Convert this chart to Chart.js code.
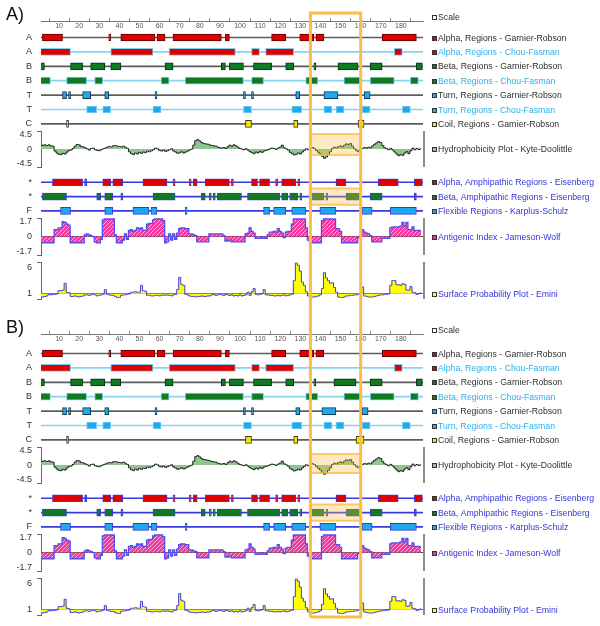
<!DOCTYPE html>
<html>
<head>
<meta charset="utf-8">
<script src="https://cdn.jsdelivr.net/npm/chart.js@4.4.1/dist/chart.umd.min.js"></script>
<style>
  html, body { margin: 0; padding: 0; background: #fff; }
  .panel { position: relative; width: 600px; height: 313px; }
</style>
</head>
<body>
<div class="panel"><canvas id="chartA" width="600" height="313"></canvas></div>
<div class="panel"><canvas id="chartB" width="600" height="313"></canvas></div>
<script>
// ---- data ----
const scaleMin = 1, scaleMax = 191;
const scaleTicks = [10, 20, 30, 40, 50, 60, 70, 80, 90, 100, 110, 120, 130, 140, 150, 160, 170, 180];
const rowLabels = ['A', 'A', 'B', 'B', 'T', 'T', 'C'];
const amphLabels = ['*', '*', 'F'];
const hydroTicks = [-4.5, 0, 4.5];
const antigenTicks = [-1.7, 0, 1.7];
const surfaceTicks = [1, 6];
const highlight = [135, 160];

// regions, residue ranges [first, last]
const alphaGR = [[2,11],[35,35],[41,57],[59,62],[67,90],[93,94],[116,122],[130,136],[138,141],[171,187]];
const alphaCF = [[1,15],[36,56],[65,97],[106,109],[113,126],[177,180]];
const betaGR = [[1,2],[16,21],[26,32],[36,40],[63,66],[91,92],[95,101],[107,115],[123,126],[137,137],[149,158],[165,170],[188,190]];
const betaCF = [[1,5],[14,23],[28,31],[61,64],[73,101],[106,111],[133,138],[152,160],[165,176],[185,188]];
const turnGR = [[12,13],[15,15],[22,25],[33,34],[58,58],[102,102],[106,106],[128,129],[142,148],[162,164]];
const turnCF = [[24,28],[32,35],[57,60],[102,105],[126,130],[142,145],[148,151],[161,164],[181,184]];
const coilGR = [[14,14],[103,105],[127,128],[159,161]];
const alphaAmph = [[7,21],[23,23],[32,35],[37,41],[52,63],[67,67],[75,75],[77,78],[83,94],[96,96],[106,108],[110,114],[118,118],[121,127],[129,129],[148,152],[169,178],[187,190]];
const betaAmph = [[2,13],[29,30],[33,36],[41,41],[57,67],[81,82],[85,85],[87,87],[89,100],[104,119],[121,123],[125,128],[130,130],[136,141],[143,143],[153,159],[165,170],[187,187]];
const flex = [[11,15],[33,36],[47,54],[56,58],[73,73],[112,114],[117,122],[126,132],[140,147],[161,165],[175,187]];

// panel B differs in a few tracks
const betaGR_B = [[1,2],[16,21],[26,32],[36,40],[63,66],[91,92],[95,101],[107,115],[123,126],[137,137],[147,157],[165,170],[188,190]];
const turnGR_B = [[12,13],[15,15],[22,25],[33,34],[58,58],[102,102],[106,106],[128,129],[141,147],[161,163]];
const coilGR_B = [[14,14],[103,105],[127,128],[158,161]];
const betaAmph_B = [[2,13],[29,30],[33,36],[41,41],[57,67],[81,82],[85,85],[87,87],[89,100],[104,119],[121,123],[125,128],[130,130],[135,141],[143,143],[153,159],[165,170],[187,187]];

// per-residue plots (1..190)
const hydro = [
  1.0, 1.2, 1.3, 1.1, 1.3, 1.0, 0.9, -0.6, -1.2, -1.6,
  -1.7, -1.3, -1.5, -0.9, -0.4, -0.3, 0.2, 0.9, 1.4, 1.3,
  0.8, 0.7, 0.4, 0.1, -0.3, 0.2, 0.3, -0.2, -0.4, -0.5,
  -0.2, 0.1, 0.3, 0.6, 0.8, 0.7, 1.0, 1.1, 0.9, 0.8,
  0.7, 0.9, 0.6, 0.2, -0.8, -1.4, -1.7, -1.2, -1.5, -1.0,
  -1.3, -0.9, -1.1, -0.6, -0.8, -0.5, -0.2, 0.3, 0.1, -0.4,
  -0.6, -0.3, -0.7, -0.5, -0.2, 0.1, -0.6, -0.9, -1.3, -1.1,
  -0.8, -1.2, -0.9, -0.6, -0.3, 0.0, 1.2, 2.6, 2.9, 2.5,
  2.0, 1.7, 1.6, 1.5, 1.3, 1.1, 1.0, 0.9, 0.6, 0.4,
  0.3, 0.5, 0.2, 0.7, 1.2, 0.9, 1.3, 1.0, 0.6, 0.2,
  0.0, -0.2, 0.1, -0.3, -0.8, -1.1, -1.4, -0.9, -1.2, -0.7,
  -1.0, -0.6, -0.4, -0.2, 0.1, 0.3, 0.2, -0.1, 0.3, 0.6,
  1.2, 0.4, 0.1, -0.3, -1.0, -1.4, -1.8, -1.6, -1.2, -1.5,
  -0.9, -0.4, 0.1, -0.2, 0.3, 0.5, 0.2, -0.4, -1.0, -1.5,
  -2.2, -2.8, -2.4, -1.6, -0.8, 0.2, 0.6, 0.4, 0.8, 1.0,
  0.7, 1.2, 1.6, 1.4, 1.7, 0.9, 0.1, -0.5, -0.8, -0.3,
  0.2, 0.5, 0.3, 0.6, 0.4, 1.0, 1.5, 1.9, 2.3, 2.0,
  1.1, 0.4, 0.1, -0.2, 0.2, -0.3, -0.9, -1.5, -2.0, -1.7,
  -1.9, -1.2, -0.8, -1.4, -0.5, 0.3, -0.2, 0.2, -0.1, 0.1
];
const antigenic = [
  -0.7, -0.7, -0.7, -0.7, -0.7, -0.7, -0.7, 0.8, 0.8, 1.0,
  1.0, 1.7, 1.6, 1.4, 1.3, -0.7, -0.7, -0.7, -0.7, -0.7,
  -0.7, -0.7, 0.2, 0.3, 0.2, 0.1, 0.0, -0.6, -0.7, -0.7,
  -0.3, 1.9, 2.0, 2.0, 2.0, 2.0, 2.0, 0.2, -0.7, -0.7,
  -0.7, -0.4, 0.3, -0.3, 0.7, 0.8, 0.6, 0.7, 1.0, 0.9,
  1.0, 0.7, 0.7, 1.4, 1.5, 1.5, 1.9, 2.0, 2.0, 2.0,
  2.0, 1.8, -0.7, -0.6, 0.3, -0.4, 0.3, -0.3, 0.4, 0.9,
  1.0, 1.0, 0.9, 0.9, 0.3, 0.3, 0.2, 0.1, -0.6, -0.6,
  -0.6, -0.6, -0.6, -0.6, 0.3, 0.3, 0.3, 0.3, 0.3, 0.3,
  0.3, 0.1, -0.5, -0.5, -0.4, -0.6, -0.6, -0.6, -0.6, -0.6,
  -0.6, -0.6, 0.3, 0.4, 1.0, 0.6, 0.4, -0.2, -0.2, -0.2,
  -0.1, -0.2, -0.2, 0.2, 0.5, 0.5, 0.6, 0.5, 0.9, 0.6,
  0.4, -0.1, 0.5, 0.6, 0.6, 1.4, 2.0, 2.0, 2.0, 2.0,
  2.0, 2.0, 1.0, -0.4, -0.7, -0.7, -0.7, -0.7, -0.7, -0.7,
  1.8, 2.0, 2.0, 2.0, 2.0, 2.0, 2.0, 0.9, 0.9, 0.6,
  -0.7, -0.7, -0.7, -0.7, -0.7, -0.7, -0.7, -0.7, -0.1, 0.1,
  0.8, 0.5, 0.4, 0.3, 0.1, -0.6, -0.6, -0.6, -0.6, -0.6,
  -0.2, -0.2, -0.2, -0.2, 1.0, 1.1, 1.1, 1.1, 1.1, 1.2,
  1.6, 1.2, 1.6, 0.8, 0.8, 1.1, 0.7, 0.7, 0.7, 0.6
];
const surface = [
  0.4, 0.4, 0.5, 0.6, 0.9, 0.8, 0.9, 0.9, 1.0, 1.6,
  1.6, 1.7, 3.0, 1.3, 1.2, 0.5, 0.5, 0.6, 0.5, 0.4,
  0.5, 0.6, 0.8, 0.8, 0.7, 0.8, 0.9, 0.8, 0.6, 0.7,
  0.8, 0.9, 1.8, 0.9, 0.8, 0.7, 0.7, 0.5, 0.3, 0.3,
  0.7, 0.8, 0.8, 0.9, 1.0, 1.3, 1.3, 1.4, 1.3, 1.3,
  2.6, 1.6, 1.5, 0.7, 0.7, 0.6, 0.6, 0.7, 0.7, 0.6,
  0.7, 0.8, 0.7, 0.8, 0.7, 0.6, 0.8, 0.9, 1.8, 4.1,
  2.8, 2.6, 0.9, 0.8, 0.6, 0.5, 0.5, 0.4, 0.5, 0.5,
  0.6, 0.5, 0.5, 0.6, 0.6, 0.8, 0.9, 0.7, 0.8, 0.9,
  0.8, 0.7, 0.9, 0.8, 0.7, 0.8, 0.6, 0.7, 0.6, 0.8,
  0.6, 0.7, 0.8, 1.3, 0.7, 1.4, 2.0, 0.9, 0.8, 0.9,
  1.0, 1.8, 0.8, 0.8, 0.7, 0.7, 0.6, 0.6, 0.7, 0.6,
  0.7, 0.8, 0.6, 0.7, 0.8, 0.9, 3.5, 6.8, 6.4, 5.3,
  3.2, 2.6, 1.4, 0.6, 0.5, 0.4, 0.4, 0.5, 0.6, 0.8,
  2.0, 5.0, 4.0, 3.5, 3.0, 3.1, 2.2, 1.3, 0.4, 0.3,
  0.3, 0.4, 0.6, 0.6, 0.7, 0.7, 0.8, 0.8, 0.9, 1.0,
  2.3, 0.6, 0.5, 0.4, 0.4, 0.4, 0.5, 0.6, 0.7, 0.8,
  0.8, 0.9, 0.9, 1.0, 2.6, 3.5, 3.5, 2.7, 2.7, 2.6,
  2.9, 2.8, 1.7, 1.7, 2.4, 1.3, 1.2, 0.9, 1.0, 1.2
];

// ---- styles ----
const FONT = '"Liberation Sans", Arial, sans-serif';
Chart.defaults.font.family = FONT;
const DARK_TEXT = '#2e2e2e', CF_TEXT = '#29b0ec', EIS_TEXT = '#3535d6';
const RED = '#e00000', GREEN = '#107a22', CYAN = '#1ea8ee', YELLOW = '#f4e800';
const GR_LINE = '#5c5c5c', CF_LINE = '#86d3f3', EIS_LINE = '#3a3adc';

const rowStyles = {
  alphaGR:   { fill: RED,    edge: '#5a0000', line: GR_LINE,  text: 'Alpha, Regions - Garnier-Robson', color: DARK_TEXT },
  alphaCF:   { fill: RED,    edge: '#7ccff0', line: CF_LINE,  text: 'Alpha, Regions - Chou-Fasman', color: CF_TEXT },
  betaGR:    { fill: GREEN,  edge: '#033010', line: GR_LINE,  text: 'Beta, Regions - Garnier-Robson', color: DARK_TEXT },
  betaCF:    { fill: GREEN,  edge: '#7ccff0', line: CF_LINE,  text: 'Beta, Regions - Chou-Fasman', color: CF_TEXT },
  turnGR:    { fill: CYAN,   edge: '#123a55', line: GR_LINE,  text: 'Turn, Regions - Garnier-Robson', color: DARK_TEXT },
  turnCF:    { fill: CYAN,   edge: '#7ccff0', line: CF_LINE,  text: 'Turn, Regions - Chou-Fasman', color: CF_TEXT },
  coilGR:    { fill: YELLOW, edge: '#3a3a20', line: GR_LINE,  text: 'Coil, Regions - Garnier-Robson', color: DARK_TEXT },
  alphaAmph: { fill: RED,    edge: EIS_LINE,  line: EIS_LINE, text: 'Alpha, Amphipathic Regions - Eisenberg', color: EIS_TEXT },
  betaAmph:  { fill: GREEN,  edge: EIS_LINE,  line: EIS_LINE, text: 'Beta, Amphipathic Regions - Eisenberg', color: EIS_TEXT },
  flex:      { fill: CYAN,   edge: EIS_LINE,  line: EIS_LINE, text: 'Flexible Regions - Karplus-Schulz', color: EIS_TEXT }
};

function hatch() {
  const c = document.createElement('canvas');
  c.width = 4; c.height = 4;
  const g = c.getContext('2d');
  g.fillStyle = '#f23a9f';
  g.fillRect(0, 0, 4, 4);
  g.strokeStyle = '#ffa6d6';
  g.lineWidth = 1;
  g.beginPath(); g.moveTo(0, 4); g.lineTo(4, 0); g.stroke();
  return g.createPattern(c, 'repeat');
}

const plotStyles = {
  hydro:   { min: -5.5, max: 5.5, base: 0, fill: '#8ec68e', line: '#1a1a1a', width: 1, baseColor: 'rgba(0,0,0,0)',
             text: 'Hydrophobicity Plot - Kyte-Doolittle', color: DARK_TEXT, sq: '#8ec68e' },
  antigen: { min: -2.1, max: 2.1, base: 0, fill: hatch(), line: '#4f4ff2', width: 1.3, baseColor: '#444',
             text: 'Antigenic Index - Jameson-Wolf', color: EIS_TEXT, sq: '#f0329c' },
  surface: { min: 0, max: 7, base: 1, fill: '#ffff00', line: '#3d3ddc', width: 1, baseColor: '#6f6f2a',
             text: 'Surface Probability Plot - Emini', color: EIS_TEXT, sq: '#ffff00' }
};

// ---- decorations: legend texts, highlight frame, panel letter ----
function makeDecor(cfg) {
  return {
    id: 'decor',
    afterDraw(chart) {
      const { ctx, chartArea: a, scales } = chart;
      const x = scales.x;
      ctx.save();

      // right edge of the plot bands
      ctx.strokeStyle = '#8c8c8c';
      ctx.lineWidth = 2;
      ['hydro', 'antigen', 'surface'].forEach(id => {
        const s = scales[id];
        ctx.beginPath(); ctx.moveTo(a.right + 1, s.top); ctx.lineTo(a.right + 1, s.bottom); ctx.stroke();
      });

      // highlighted window
      const x0 = x.getPixelForValue(highlight[0]), x1 = x.getPixelForValue(highlight[1]);
      const h = scales.hydro;
      const hy0 = h.getPixelForValue(cfg.hydroBox[0]), hy1 = h.getPixelForValue(cfg.hydroBox[1]);
      const b = scales.betaAmph;
      ctx.fillStyle = 'rgba(250, 190, 70, 0.32)';
      ctx.fillRect(x0, hy0, x1 - x0, hy1 - hy0);
      ctx.fillRect(x0, b.top - 1, x1 - x0, b.bottom - b.top + 2);
      ctx.strokeStyle = 'rgba(250, 185, 60, 0.75)';
      ctx.lineWidth = 2;
      ctx.strokeRect(x0, hy0, x1 - x0, hy1 - hy0);
      ctx.strokeRect(x0, b.top - 1, x1 - x0, b.bottom - b.top + 2);

      ctx.strokeStyle = '#fbbd45';
      ctx.lineWidth = 3;
      ctx.beginPath();
      ctx.moveTo(x0, cfg.frame[1]); ctx.lineTo(x0, cfg.frame[0]);
      if (cfg.frameTop) { ctx.lineTo(x1, cfg.frame[0]); } else { ctx.moveTo(x1, cfg.frame[0]); }
      ctx.lineTo(x1, cfg.frame[1]);
      if (cfg.frameBottom) { ctx.lineTo(x0, cfg.frame[1]); }
      ctx.stroke();

      // legend on the right
      ctx.font = '8.7px ' + FONT;
      ctx.textBaseline = 'middle';
      ctx.textAlign = 'left';
      const lx = a.right + 9;
      cfg.legends.forEach(l => {
        let y;
        if (l.id === 'x') y = x.bottom - 4;
        else if (l.at !== undefined) y = scales[l.id].getPixelForValue(l.at);
        else y = (scales[l.id].top + scales[l.id].bottom) / 2;
        y = Math.round(y);
        ctx.fillStyle = l.sq;
        ctx.fillRect(lx, y - 2, 5, 5);
        ctx.strokeStyle = '#333';
        ctx.lineWidth = 1;
        ctx.strokeRect(lx + 0.5, y - 1.5, 4, 4);
        ctx.fillStyle = l.color;
        ctx.fillText(l.text, lx + 6, y + 0.5);
      });

      // panel letter
      ctx.font = '18px ' + FONT;
      ctx.textBaseline = 'alphabetic';
      ctx.fillStyle = '#111';
      ctx.fillText(cfg.letter, 6, 20);
      ctx.restore();
    }
  };
}

function segBar(s) { return [s[0] - 0.3, s[1] + 0.7]; }

function buildPanel(p) {
  const datasets = [];
  const scales = {};
  const legends = [{ id: 'x', text: 'Scale', color: DARK_TEXT, sq: '#fff' }];
  let weight = 100;
  const fixWidth = s => { s.width = 41; };

  scales.x = {
    type: 'linear', axis: 'x', position: 'top', min: scaleMin, max: scaleMax, offset: false,
    afterBuildTicks: s => { s.ticks = scaleTicks.map(v => ({ value: v })); },
    ticks: { autoSkip: false, mirror: true, padding: 1, maxRotation: 0, color: '#555', font: { size: 7 } },
    grid: { drawOnChartArea: false, tickLength: 3, color: '#888' },
    border: { color: '#777' }
  };

  function spacer(id, h) {
    scales[id] = { type: 'linear', axis: 'y', display: false, position: 'left', stack: 'tracks', stackWeight: h,
                   weight: weight--, min: 0, max: 1, afterFit: fixWidth };
  }

  function row(id, label, segs, h) {
    const st = rowStyles[id];
    scales[id] = {
      type: 'category', axis: 'y', labels: [label], position: 'left', stack: 'tracks', stackWeight: h,
      weight: weight--, offset: true,
      grid: { display: false, drawTicks: true, tickLength: 4 }, border: { display: false },
      ticks: { padding: 5, color: '#333', font: { size: 9 } },
      afterFit: fixWidth
    };
    datasets.push({ type: 'bar', indexAxis: 'y', xAxisID: 'x', yAxisID: id, data: [[scaleMin, scaleMax]],
                    backgroundColor: st.line, barThickness: 1, grouped: false, order: 9 });
    segs.forEach(s => datasets.push({
      type: 'bar', indexAxis: 'y', xAxisID: 'x', yAxisID: id, data: [segBar(s)],
      backgroundColor: st.fill, borderColor: st.edge, borderWidth: 1, borderSkipped: false,
      barThickness: 7, grouped: false, order: 2
    }));
    legends.push({ id, text: st.text, color: st.color, sq: st.fill });
  }

  function plot(id, values, tickVals, h) {
    const st = plotStyles[id];
    scales[id] = {
      type: 'linear', axis: 'y', position: 'left', stack: 'tracks', stackWeight: h, weight: weight--,
      min: st.min, max: st.max, offset: false,
      afterBuildTicks: s => { s.ticks = [st.min].concat(tickVals, [st.max]).map(v => ({ value: v })); },
      afterFit: fixWidth,
      ticks: { autoSkip: false, padding: 5, color: '#333', font: { size: 9 },
               callback: v => tickVals.includes(v) ? String(v) : '' },
      grid: {
        tickLength: 4,
        color: c => (c.tick && c.tick.value === st.base) ? st.baseColor : 'rgba(0,0,0,0)',
        tickColor: c => (c.tick && (c.tick.value === st.min || c.tick.value === st.max)) ? '#666' : 'rgba(0,0,0,0)'
      },
      border: { display: true, color: '#666' }
    };
    datasets.push({
      type: 'line', xAxisID: 'x', yAxisID: id,
      data: values.map((v, i) => ({ x: i + 1, y: v })),
      borderColor: st.line, borderWidth: st.width, backgroundColor: st.fill,
      fill: st.base === 0 ? 'origin' : { value: st.base },
      stepped: 'middle', pointRadius: 0, order: 1
    });
    legends.push({ id, text: st.text, color: st.color, sq: st.sq, at: st.base });
  }

  spacer('gapTop', p.topGap);
  ['alphaGR', 'alphaCF', 'betaGR', 'betaCF', 'turnGR', 'turnCF', 'coilGR']
    .forEach((k, i) => row(k, rowLabels[i], p.rows[k], 14.4));
  plot('hydro', hydro, hydroTicks, 36);
  spacer('gapMid', 8);
  ['alphaAmph', 'betaAmph', 'flex'].forEach((k, i) => row(k, amphLabels[i], p.rows[k], 14.33));
  plot('antigen', antigenic, antigenTicks, 37);
  spacer('gapLow', 7);
  plot('surface', surface, surfaceTicks, 37);

  new Chart(document.getElementById(p.canvas), {
    type: 'bar',
    data: { datasets },
    options: {
      responsive: false,
      animation: false,
      events: [],
      layout: { padding: { top: 16, left: 0, right: 177, bottom: p.bottomPad } },
      scales,
      plugins: { legend: { display: false }, tooltip: { enabled: false } }
    },
    plugins: [makeDecor({ legends, letter: p.letter, frame: p.frame, frameTop: p.frameTop,
                          frameBottom: p.frameBottom, hydroBox: p.hydroBox })]
  });
}

buildPanel({
  canvas: 'chartA', letter: 'A)', topGap: 9.3, bottomPad: 13.9,
  frame: [13, 313], frameTop: true, frameBottom: false, hydroBox: [4.6, -1.8],
  rows: { alphaGR, alphaCF, betaGR, betaCF, turnGR, turnCF, coilGR, alphaAmph, betaAmph, flex }
});
buildPanel({
  canvas: 'chartB', letter: 'B)', topGap: 12.3, bottomPad: 10.9,
  frame: [0, 304], frameTop: false, frameBottom: true, hydroBox: [3.4, -2.4],
  rows: { alphaGR, alphaCF, betaGR: betaGR_B, betaCF, turnGR: turnGR_B, turnCF, coilGR: coilGR_B,
          alphaAmph, betaAmph: betaAmph_B, flex }
});
</script>
</body>
</html>
